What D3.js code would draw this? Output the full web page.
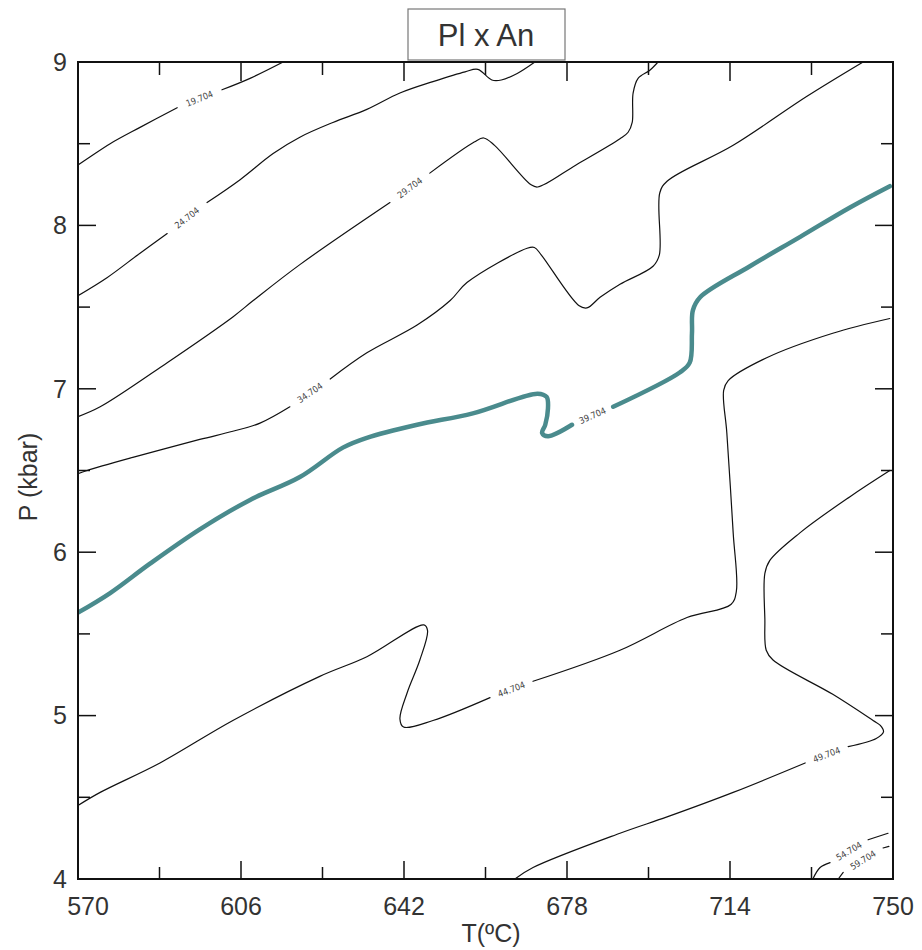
<!DOCTYPE html>
<html>
<head>
<meta charset="utf-8">
<script src="https://cdn.jsdelivr.net/npm/d3@7"></script>
<style>
  body { margin: 0; background: #fff; }
  svg { font-family: "Liberation Sans", Arial, sans-serif; }
  .lbl { font-family: "DejaVu Sans Condensed", "DejaVu Sans", sans-serif; font-size: 9px; fill: #444; }
</style>
</head>
<body>
<script>
// axis settings
var xTicks = [570, 606, 642, 678, 714, 750];
var yTicks = [4, 5, 6, 7, 8, 9];

// contour lines, [T, P]; null marks the gap where the label sits
var c19 = [[570,8.37],[572.7,8.42],[577.1,8.50],[583.7,8.60],[591.9,8.72], null,
           [601.8,8.83],[608.0,8.90],[615.3,9.0]];
var c24 = [[570,7.57],[576.4,7.68],[583.7,7.83],[589.7,7.95], null,
           [598.5,8.14],[605.8,8.28],[613.1,8.44],[619,8.54],[626.3,8.63],[633.8,8.71],
           [641.1,8.81],[648.4,8.88],[655.5,8.94],[658.3,8.955],[661.4,8.89],[663.5,8.89],
           [667,8.93],[670.9,9.0]];
var c29 = [[570,6.83],[574.9,6.89],[589.7,7.16],[604.2,7.44],[608.7,7.54],[619,7.76],[638.9,8.14], null,
           [647.7,8.32],[657.5,8.51],[659.6,8.535],[662,8.49],[670,8.25],[671.5,8.235],
           [680,8.37],[689.7,8.53],[691.5,8.57],[692.4,8.63],[692.6,8.81],[693.7,8.90],
           [696.3,8.95],[698.1,9.0]];
var c34 = [[570,6.48],[572,6.50],[582.1,6.58],[596.9,6.69],[604.2,6.74],[610.2,6.79],[616.8,6.89], null,
           [625.7,7.06],[633.8,7.22],[644.9,7.39],[652.2,7.54],[655.9,7.65],[669.2,7.86],
           [670.8,7.865],[672.3,7.82],[680.6,7.51],[682.4,7.495],[685.3,7.56],[689.7,7.64],
           [697,7.75],[698.4,7.82],[698.5,8.20],[700.1,8.27],[714.7,8.49],[731,8.79],[743.4,9.0]];
var c39 = [[570,5.63],[577.1,5.75],[585.9,5.93],[596.9,6.14],[608,6.32],[619,6.46],[628.5,6.64],
           [633.8,6.70],[644.9,6.78],[657.2,6.85],[671.5,6.97],[673.5,6.95],[673.8,6.88],
           [673.2,6.78],[672.5,6.73],[673.8,6.71],[679.1,6.78], null,
           [688.2,6.89],[702.9,7.10],[705.1,7.16],[705.6,7.34],[705.8,7.48],[707.4,7.56],
           [718.4,7.75],[729.5,7.93],[740.5,8.11],[749.3,8.24]];
var c44 = [[570,4.45],[574.9,4.53],[588.1,4.71],[604.2,4.97],[623.4,5.24],[633.8,5.36],[646.4,5.555],
           [647.2,5.52],[645.5,5.34],[642.7,5.14],[641.1,4.98],[641.9,4.93],[648.4,4.97],[661,5.11], null,
           [670.5,5.21],[689.7,5.40],[704.5,5.60],[714.2,5.68],[715.4,5.76],[714.7,6.12],[713.3,6.73],
           [712.6,6.99],[713.6,7.05],[722.1,7.19],[736.7,7.34],[749.3,7.43]];
var c49 = [[666.5,4.0],[670.5,4.07],[689.7,4.28],[700.1,4.38],[714.7,4.53],[730.6,4.71], null,
           [740.1,4.81],[746.3,4.86],[747.9,4.90],[747.2,4.94],[745.6,4.97],[736.7,5.13],[723.5,5.34],
           [722.0,5.40],[721.7,5.59],[721.7,5.87],[722.8,5.95],[729.5,6.12],[740.5,6.34],[749.3,6.50]];
var c54 = [[732.3,4.0],[733.9,4.07],[736.1,4.10], null, [744.5,4.24],[748.9,4.28]];
var c59 = [[737.9,4.0],[739,4.04], null, [747.8,4.19],[749.1,4.20]];

var contours = [
  {name: "19.704", pts: c19},
  {name: "24.704", pts: c24},
  {name: "29.704", pts: c29},
  {name: "34.704", pts: c34},
  {name: "39.704", pts: c39, hi: true},
  {name: "44.704", pts: c44},
  {name: "49.704", pts: c49},
  {name: "54.704", pts: c54},
  {name: "59.704", pts: c59}
];

var margin = {top: 62, right: 29, bottom: 71, left: 78};
var width = 922 - margin.left - margin.right;
var height = 950 - margin.top - margin.bottom;

var svg = d3.select("body").append("svg")
    .attr("width", 922)
    .attr("height", 950);

var g = svg.append("g")
    .attr("transform", "translate(" + margin.left + "," + margin.top + ")");

var xScale = d3.scaleLinear().domain([570, 750]).range([0, width]);
var yScale = d3.scaleLinear().domain([4, 9]).range([height, 0]);

var clip = g.append("clipPath").attr("id", "plotclip")
  .append("rect").attr("width", width).attr("height", height);

var line = d3.line()
    .defined(function(d) { return d !== null; })
    .x(function(d) { return xScale(d[0]); })
    .y(function(d) { return yScale(d[1]); })
    .curve(d3.curveCatmullRom.alpha(0.5));

var plot = g.append("g").attr("clip-path", "url(#plotclip)");

contours.forEach(function(c) {
  plot.append("path")
    .datum(c.pts)
    .attr("d", line)
    .attr("fill", "none")
    .attr("stroke", c.hi ? "#4a8b8d" : "#111")
    .attr("stroke-width", c.hi ? 4.5 : 1.2)
    .attr("stroke-linecap", "round")
    .attr("stroke-linejoin", "round");

  // label sits in the gap
  var i = c.pts.indexOf(null);
  var a = c.pts[i - 1], b = c.pts[i + 1];
  var ax = xScale(a[0]), ay = yScale(a[1]), bx = xScale(b[0]), by = yScale(b[1]);
  var ang = Math.atan2(by - ay, bx - ax) * 180 / Math.PI;
  g.append("text")
    .attr("class", "lbl")
    .attr("text-anchor", "middle")
    .attr("dominant-baseline", "central")
    .attr("transform", "translate(" + ((ax + bx) / 2) + "," + ((ay + by) / 2) + ") rotate(" + ang + ")")
    .text(c.name);
});

// axes with inward ticks on all four sides
function minorTicks(lo, hi, step) {
  var out = [];
  for (var v = lo; v <= hi + 1e-9; v += step) out.push(+v.toFixed(3));
  return out;
}
var xMinor = minorTicks(588, 732, 36);
var yMinor = minorTicks(4.5, 8.5, 1);

var axes = g.append("g").attr("stroke", "#111").attr("stroke-width", 1.5);
xTicks.slice(1, -1).forEach(function(t) {
  axes.append("line").attr("x1", xScale(t)).attr("x2", xScale(t)).attr("y1", height).attr("y2", height - 18);
  axes.append("line").attr("x1", xScale(t)).attr("x2", xScale(t)).attr("y1", 0).attr("y2", 19);
});
xMinor.forEach(function(t) {
  axes.append("line").attr("x1", xScale(t)).attr("x2", xScale(t)).attr("y1", height).attr("y2", height - 12);
  axes.append("line").attr("x1", xScale(t)).attr("x2", xScale(t)).attr("y1", 0).attr("y2", 13);
});
yTicks.slice(1, -1).forEach(function(t) {
  axes.append("line").attr("x1", 0).attr("x2", 18).attr("y1", yScale(t)).attr("y2", yScale(t));
  axes.append("line").attr("x1", width).attr("x2", width - 18).attr("y1", yScale(t)).attr("y2", yScale(t));
});
yMinor.forEach(function(t) {
  axes.append("line").attr("x1", 0).attr("x2", 12).attr("y1", yScale(t)).attr("y2", yScale(t));
  axes.append("line").attr("x1", width).attr("x2", width - 12).attr("y1", yScale(t)).attr("y2", yScale(t));
});

g.append("rect")
  .attr("width", width).attr("height", height)
  .attr("fill", "none").attr("stroke", "#111").attr("stroke-width", 2);

// tick labels
g.selectAll(".xl").data(xTicks).enter().append("text")
  .attr("class", "xl")
  .attr("x", function(d, i) { return xScale(d) + (i === 0 ? 10 : 0); })
  .attr("y", height + 36)
  .attr("text-anchor", "middle")
  .style("font-size", "25px")
  .style("fill", "#333")
  .text(function(d) { return d; });

g.selectAll(".yl").data(yTicks).enter().append("text")
  .attr("class", "yl")
  .attr("x", -11)
  .attr("y", function(d) { return yScale(d); })
  .attr("dy", "0.35em")
  .attr("text-anchor", "end")
  .style("font-size", "25px")
  .style("fill", "#333")
  .text(function(d) { return d; });

// axis titles
svg.append("text")
  .attr("x", 491).attr("y", 942)
  .attr("text-anchor", "middle")
  .style("font-size", "25px").style("fill", "#333")
  .text("T(ºC)");

svg.append("text")
  .attr("transform", "translate(37,477) rotate(-90)")
  .attr("text-anchor", "middle")
  .style("font-size", "25px").style("fill", "#333")
  .text("P (kbar)");

// title box
svg.append("rect")
  .attr("x", 408).attr("y", 9).attr("width", 157).attr("height", 51)
  .attr("fill", "#fff").attr("stroke", "#777").attr("stroke-width", 1.2);
svg.append("text")
  .attr("x", 486).attr("y", 46)
  .attr("text-anchor", "middle")
  .style("font-size", "31px").style("fill", "#333")
  .text("Pl x An");
</script>
</body>
</html>
